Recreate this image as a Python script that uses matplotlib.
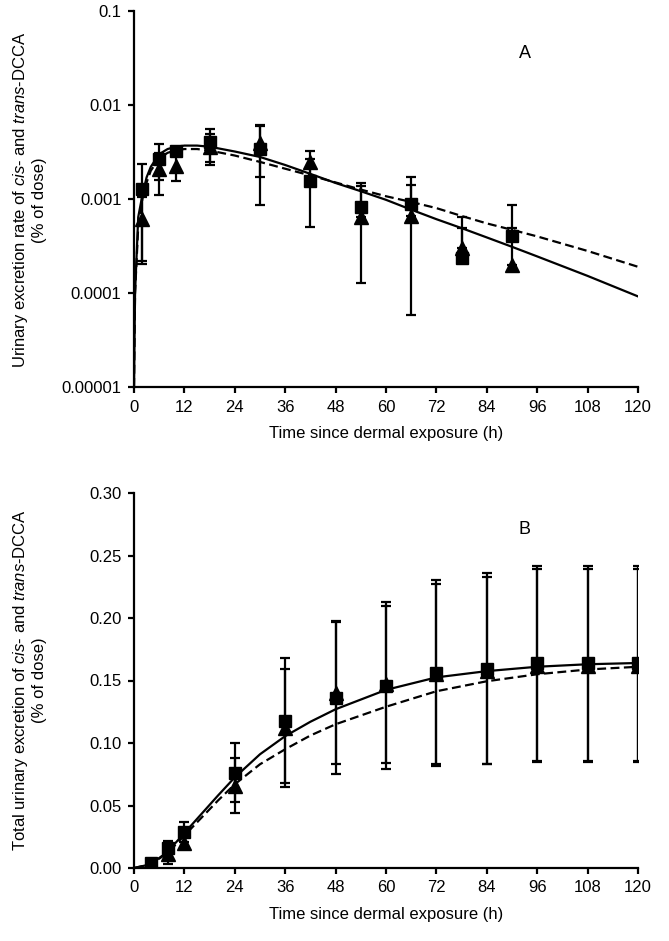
import numpy as np
import matplotlib
matplotlib.use("Agg")
import matplotlib.pyplot as plt
from matplotlib.ticker import FixedLocator, FixedFormatter, NullLocator

plt.rcParams["font.family"] = ["Liberation Sans", "DejaVu Sans"]
plt.rcParams["font.size"] = 12
plt.rcParams["mathtext.fontset"] = "custom"
plt.rcParams["mathtext.rm"] = "Liberation Sans"
plt.rcParams["mathtext.it"] = "Liberation Sans:italic"

# ---- panel A: excretion rate (log scale) ----
t_a = [2, 6, 10, 18, 30, 42, 54, 66, 78, 90]
sq_a = [0.00128, 0.00267, 0.00322, 0.00402, 0.00341, 0.00157, 0.00082, 0.00088, 0.000234, 0.00040]
sq_a_hi = [0.00236, 0.00386, 0.0036, 0.00557, 0.00605, 0.00264, 0.00148, 0.00173, 0.00049, 0.00087]
sq_a_lo = [0.000203, 0.00161, 0.0029, 0.00246, 0.00087, 0.00050, 0.000129, 0.000058, 0.000234, 0.00040]
tri_a = [0.00061, 0.00209, 0.00226, 0.0036, 0.00392, 0.00246, 0.00064, 0.00066, 0.00030, 0.00020]
tri_a_hi = [0.00104, 0.0031, 0.00295, 0.00493, 0.0061, 0.00322, 0.00136, 0.00141, 0.00064, 0.00049]
tri_a_lo = [0.00022, 0.00111, 0.00157, 0.0023, 0.0017, 0.0017, 0.00064, 0.00066, 0.00030, 0.00020]

curve_t_a = [0, 0.25, 1, 2, 3, 4, 6, 8, 10, 12, 15, 18, 24, 30, 36, 42, 48, 54,
             60, 66, 72, 78, 84, 90, 96, 108, 120]
solid_a = [1e-5, 1e-4, 0.00064, 0.0011, 0.0017, 0.0022, 0.0030, 0.0034, 0.0036, 0.0037,
           0.0037, 0.0036, 0.0032, 0.0028, 0.0023, 0.00185, 0.00148, 0.00121,
           0.00098, 0.00077, 0.00061, 0.00049, 0.00039, 0.00031, 0.000245, 0.000152, 0.000092]
dashed_a = [1e-5, 1e-4, 0.0005, 0.001, 0.0015, 0.0020, 0.0027, 0.0031, 0.0033, 0.0034,
            0.0034, 0.00328, 0.0029, 0.00248, 0.0021, 0.00178, 0.0015, 0.00126,
            0.00107, 0.00093, 0.0008, 0.00066, 0.00055, 0.00047, 0.00040, 0.00028, 0.00019]

# ---- panel B: cumulative excretion ----
t_b = [4, 8, 12, 24, 36, 48, 60, 72, 84, 96, 108, 120]
sq_b = [0.004, 0.016, 0.0286, 0.0762, 0.118, 0.136, 0.146, 0.156, 0.1596, 0.1637, 0.1637, 0.1637]
sq_b_sd = [0.001, 0.006, 0.008, 0.0235, 0.050, 0.061, 0.067, 0.0745, 0.0766, 0.078, 0.078, 0.078]
tri_b = [0.0035, 0.0115, 0.020, 0.066, 0.112, 0.1404, 0.147, 0.155, 0.158, 0.162, 0.162, 0.162]
tri_b_sd = [0.001, 0.008, 0.005, 0.022, 0.047, 0.057, 0.063, 0.072, 0.075, 0.077, 0.077, 0.077]

curve_t_b = [0, 4, 8, 12, 16, 20, 24, 30, 36, 42, 48, 60, 72, 84, 96, 108, 120]
solid_b = [0, 0.003, 0.013, 0.028, 0.043, 0.058, 0.0725, 0.091, 0.1055, 0.117, 0.127,
           0.1425, 0.1525, 0.1575, 0.161, 0.163, 0.164]
dashed_b = [0, 0.003, 0.012, 0.026, 0.040, 0.054, 0.067, 0.083, 0.095, 0.106, 0.115,
            0.129, 0.1414, 0.1494, 0.155, 0.1588, 0.161]

x_ticks = list(range(0, 121, 12))
W, H = 669, 941

fig = plt.figure(figsize=(W / 100, H / 100), dpi=100)
axA = fig.add_axes([134 / W, 1 - 387 / H, 504 / W, (387 - 11) / H])
axB = fig.add_axes([134 / W, 1 - 868 / H, 504 / W, (868 - 493) / H])

err_kw = dict(fmt="none", ecolor="black", elinewidth=1.6, capsize=3.4, capthick=1.6, zorder=2)
line_kw = dict(color="black", lw=1.6, zorder=3)


def yerr_from(vals, lo, hi):
    v = np.array(vals)
    return [v - np.array(lo), np.array(hi) - v]


# panel A
axA.plot(curve_t_a, solid_a, **line_kw)
axA.plot(curve_t_a, dashed_a, dashes=(4, 2), **line_kw)
axA.errorbar(t_a, tri_a, yerr=yerr_from(tri_a, tri_a_lo, tri_a_hi), **err_kw)
axA.errorbar(t_a, sq_a, yerr=yerr_from(sq_a, sq_a_lo, sq_a_hi), **err_kw)
axA.plot(t_a, tri_a, "^", color="black", ms=9.5, zorder=4)
axA.plot(t_a, sq_a, "s", color="black", ms=9, zorder=5)
axA.set_yscale("log")
axA.set_ylim(1e-5, 0.1)
axA.yaxis.set_major_locator(FixedLocator([1e-5, 1e-4, 1e-3, 1e-2, 1e-1]))
axA.yaxis.set_major_formatter(FixedFormatter(["0.00001", "0.0001", "0.001", "0.01", "0.1"]))
axA.yaxis.set_minor_locator(NullLocator())
axA.text(93, 0.035, "A", ha="center", va="center", fontsize=13)

# panel B
axB.plot(curve_t_b, solid_b, **line_kw)
axB.plot(curve_t_b, dashed_b, dashes=(4, 2), **line_kw)
axB.errorbar(t_b, tri_b, yerr=tri_b_sd, **err_kw)
axB.errorbar(t_b, sq_b, yerr=sq_b_sd, **err_kw)
axB.plot(t_b, tri_b, "^", color="black", ms=9.5, zorder=4)
axB.plot(t_b, sq_b, "s", color="black", ms=9, zorder=5)
axB.set_ylim(0, 0.30)
axB.set_yticks(np.arange(0, 0.31, 0.05))
axB.yaxis.set_major_formatter(plt.FuncFormatter(lambda v, p: f"{v:.2f}"))
axB.text(93, 0.271, "B", ha="center", va="center", fontsize=13)

for ax in (axA, axB):
    ax.set_xlim(0, 120)
    ax.set_xticks(x_ticks)
    ax.spines["top"].set_visible(False)
    ax.spines["right"].set_visible(False)
    for s in ("left", "bottom"):
        ax.spines[s].set_linewidth(1.6)
    ax.tick_params(direction="out", length=4, width=1.6, labelsize=12, pad=5)
    ax.set_xlabel("Time since dermal exposure (h)", fontsize=12, labelpad=8)

fig.text(29 / W, 1 - 200 / H,
         "Urinary excretion rate of $\\mathit{cis}$- and $\\mathit{trans}$-DCCA\n(% of dose)",
         rotation=90, ha="center", va="center", multialignment="center", fontsize=12)
fig.text(29 / W, 1 - 680 / H,
         "Total urinary excretion of $\\mathit{cis}$- and $\\mathit{trans}$-DCCA\n(% of dose)",
         rotation=90, ha="center", va="center", multialignment="center", fontsize=12)

fig.savefig("out.png", dpi=100)
